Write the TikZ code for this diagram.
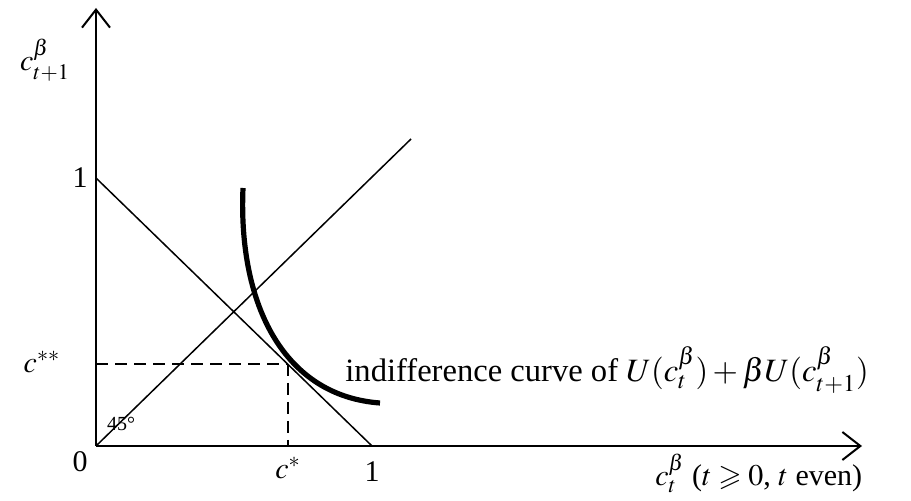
\documentclass[tikz,border=0pt]{standalone}
\usepackage{amssymb}
\usepackage{mathptmx}
\usepackage{fontspec}
\setmainfont{Liberation Serif}
\usepackage{tikz}
\usetikzlibrary{positioning,arrows.meta,calc}

\begin{document}
\begin{tikzpicture}[
    x=0.5pt, y=-0.5pt,
    axis/.style={line width=1.1pt, -{Straight Barb[length=9pt, width=14pt, line width=1pt]}},
    thin/.style={line width=0.75pt},
    guide/.style={line width=0.75pt, dash pattern=on 6pt off 3.5pt},
    indiff/.style={line width=2.6pt},
    lbl/.style={font=\fontsize{15}{18}\selectfont, inner sep=0pt}
]
\useasboundingbox (0,0) rectangle (911,501);

% --- Puntos de referencia ---
\coordinate (O) at (96,446);
\coordinate (ytop) at (96,8);
\coordinate (xend) at (862,446);
\coordinate (b1) at (96,178);
\coordinate (b2) at (372,446);
\coordinate (diag) at (411,139);
\coordinate (opt) at (288,364);
\coordinate (cyy) at (96,364);
\coordinate (cxx) at (288,446);

% --- Ejes ---
\draw[axis] (O) -- (ytop);
\draw[axis] (O) -- (xend);

% --- Recta presupuestaria y recta de 45 grados ---
\draw[thin] (b1) -- (b2);
\draw[thin] (O) -- (diag);

% --- Punto optimo ---
\draw[guide] (cyy) -- (opt);
\draw[guide] (opt) -- (cxx);

% --- Curva de indiferencia ---
\draw[indiff] (243,188) .. controls (238,305) and (284,396) .. (380,403);

% --- Etiquetas ---
\node[lbl] (ylab) at (45,60) {$c^{\beta}_{t+1}$};
\node[lbl, anchor=base west] (xlab) at (655,486) {$c^{\beta}_{t}$ ($t\geqslant 0$, $t$ even)};
\node[lbl] (zero) at (80,462) {0};
\node[lbl] (one-y) at (80,178) {1};
\node[lbl] (one-x) at (372,472) {1};
\node[lbl] (cstar) at (288,468) {$c^{*}$};
\node[lbl] (cstst) at (42,362) {$c^{**}$};
\node[font=\fontsize{10}{12}\selectfont, inner sep=0pt] (deg) at (121,424) {45°};
\node[lbl, font=\fontsize{16.3}{19}\selectfont, anchor=west] (curvelab) at (345,370) {indifference curve of $U(c^{\beta}_{t}) + \beta U(c^{\beta}_{t+1})$};

\end{tikzpicture}
\end{document}
